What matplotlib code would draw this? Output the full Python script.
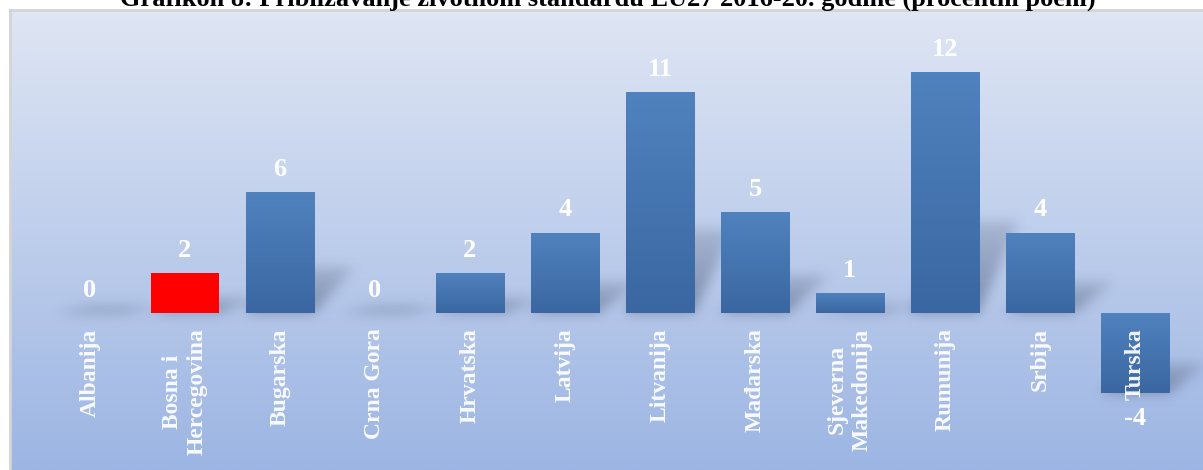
import numpy as np
import matplotlib
matplotlib.use("Agg")
import matplotlib.pyplot as plt
from matplotlib.colors import LinearSegmentedColormap

# data
countries = ['Albanija', 'Bosna i\nHercegovina', 'Bugarska', 'Crna Gora', 'Hrvatska',
             'Latvija', 'Litvanija', 'Mađarska', 'Sjeverna\nMakedonija', 'Rumunija',
             'Srbija', 'Turska']
values = [0, 2, 6, 0, 2, 4, 11, 5, 1, 12, 4, -4]
highlight = 'Bosna i\nHercegovina'
title = 'Grafikon 8: Približavanje životnom standardu EU27 2016-20. godine (procentni poeni)'

plt.rcParams['font.family'] = ['Liberation Serif', 'DejaVu Serif']

fig = plt.figure(figsize=(12.03, 4.70), dpi=100)
ax = fig.add_axes([10 / 1203, 0, 1193 / 1203, 460 / 470])

x = np.arange(len(countries))
xlim = (-0.842, 11.716)
ylim = (-7.81, 15.07)
ax.set_xlim(*xlim)
ax.set_ylim(*ylim)

# background gradient
bg = LinearSegmentedColormap.from_list('bg', ['#9cb5e3', '#dfe6f4'])
ax.imshow(np.linspace(0, 1, 256).reshape(-1, 1)[::-1], cmap=bg, aspect='auto',
          extent=(xlim[0], xlim[1], ylim[0], ylim[1]), zorder=0)

# soft shadows behind the bars
w = 0.72
nx, ny = 1193, 460
gx = np.linspace(xlim[0], xlim[1], nx)
gy = np.linspace(ylim[1], ylim[0], ny)
X, Y = np.meshgrid(gx, gy)
mask = np.zeros((ny, nx))
for i, v in enumerate(values):
    base = min(v, 0)
    hs = max(abs(v) * 0.38, 0.35)
    t = (Y - base) / hs
    inside = (t >= 0) & (t <= 1)
    shift = 0.42 * t
    inside &= (X >= i - w / 2 + shift) & (X <= i + w / 2 + shift)
    mask[inside] = np.maximum(mask[inside], 1 - 0.6 * t[inside])
k = np.exp(-0.5 * (np.arange(-18, 19) / 6.0) ** 2)
k /= k.sum()
mask = np.apply_along_axis(lambda r: np.convolve(r, k, mode='same'), 1, mask)
mask = np.apply_along_axis(lambda c: np.convolve(c, k, mode='same'), 0, mask)
shadow = np.zeros((ny, nx, 4))
shadow[..., :3] = np.array([60, 70, 95]) / 255
shadow[..., 3] = mask * 0.45
ax.imshow(shadow, aspect='auto', extent=(xlim[0], xlim[1], ylim[0], ylim[1]), zorder=1)

# bars
bars = ax.bar(x, values, width=w, color='#4575b0', zorder=2, linewidth=0)
barcm = LinearSegmentedColormap.from_list('bar', ['#3a67a1', '#5082be'])
for name, b, v in zip(countries, bars, values):
    if name == highlight:
        b.set_facecolor('#ff0000')
        continue
    if v == 0:
        continue
    x0 = b.get_x()
    lo, hi = min(0, v), max(0, v)
    im = ax.imshow(np.linspace(0, 1, 64).reshape(-1, 1)[::-1], cmap=barcm, aspect='auto',
                   extent=(x0, x0 + w, lo, hi), zorder=3)
    im.set_clip_path(b)

# value labels
for i, v in enumerate(values):
    if v >= 0:
        ax.annotate(str(v), (i, v), xytext=(0, 8), textcoords='offset points',
                    ha='center', va='bottom', color='white', fontsize=19,
                    fontweight='bold', zorder=5)
    else:
        ax.annotate(str(v), (i, v), xytext=(0, -10), textcoords='offset points',
                    ha='center', va='top', color='white', fontsize=19,
                    fontweight='bold', zorder=5)

# category labels
for i, name in enumerate(countries):
    ax.annotate(name, (i, 0), xytext=(0, -11), textcoords='offset points',
                ha='center', va='top', rotation=90, multialignment='center',
                color='white', alpha=0.93, fontsize=17, fontweight='bold',
                linespacing=1.25, zorder=6)

ax.set_xticks([])
ax.set_yticks([])
for s in ['right', 'bottom']:
    ax.spines[s].set_visible(False)
for s in ['left', 'top']:
    ax.spines[s].set_color('#d4d4d4')
    ax.spines[s].set_linewidth(2)

fig.text(0.505, 1 - 6 / 470, title, ha='center', va='baseline',
         fontsize=19, fontweight='bold', color='black')

fig.savefig('out.png', dpi=100)
